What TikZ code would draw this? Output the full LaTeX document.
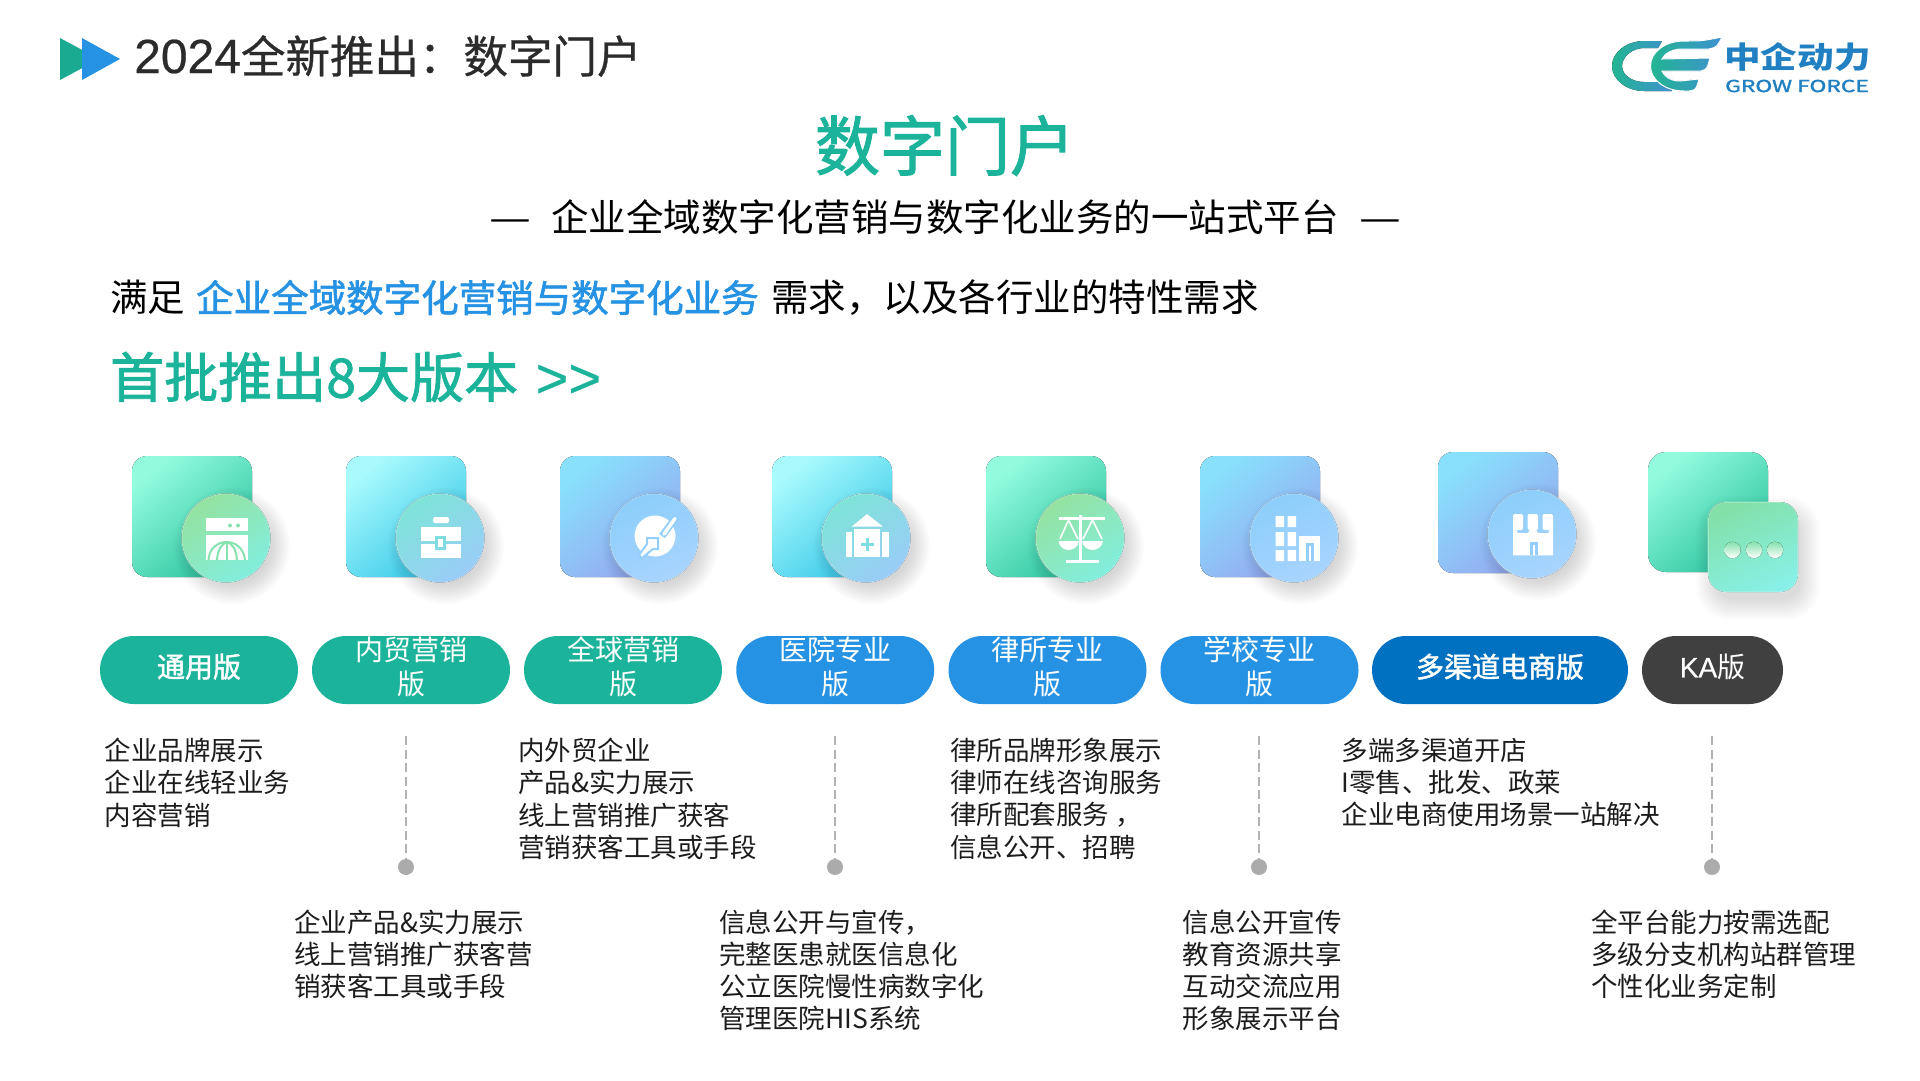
\documentclass[tikz,border=0pt]{standalone}
\usepackage{fontspec}
\setmainfont{Noto Sans CJK SC}
\newfontfamily\medfont[FakeBold=1.6]{Noto Sans CJK SC}
\newfontfamily\headfont[FakeBold=0.6]{Noto Sans CJK SC}
\newfontfamily\latinfont[FakeBold=0.5]{Liberation Sans}
\usetikzlibrary{positioning}
\definecolor{inkdark}{HTML}{2B2B2B}
\definecolor{inkbody}{HTML}{1C1C1C}
\definecolor{brandteal}{HTML}{1BB39A}
\definecolor{brandblue}{HTML}{2692E3}
\definecolor{brandnavy}{HTML}{0070C0}
\definecolor{brandgray}{HTML}{404040}
\definecolor{logoblue}{HTML}{2180C2}
\definecolor{logostart}{HTML}{22B592}
\definecolor{logoend}{HTML}{3F90D0}
\definecolor{discgreen}{HTML}{86E2AE}
\definecolor{disccyan}{HTML}{7FDCE0}
\definecolor{discblue}{HTML}{93CFFA}
\newcommand\SZ[2]{\fontsize{#1}{#2}\selectfont}
\tikzset{
  cardgreen/.style={top color={rgb,255:red,146;green,251;blue,222},bottom color={rgb,255:red,44;green,196;blue,158},shading angle=40},
  cardcyan/.style={top color={rgb,255:red,168;green,250;blue,253},bottom color={rgb,255:red,56;green,200;blue,232},shading angle=40},
  cardblue/.style={top color={rgb,255:red,136;green,224;blue,252},bottom color={rgb,255:red,150;green,166;blue,240},shading angle=40},
  roundgreen/.style={top color={rgb,255:red,148;green,226;blue,160},bottom color={rgb,255:red,130;green,238;blue,222},shading angle=35},
  roundcyan/.style={top color={rgb,255:red,126;green,228;blue,216},bottom color={rgb,255:red,154;green,204;blue,248},shading angle=35},
  roundblue/.style={top color={rgb,255:red,140;green,206;blue,250},bottom color={rgb,255:red,168;green,212;blue,255},shading angle=25},
  pilltag/.style={rounded corners=34pt,minimum height=68pt,inner sep=0pt,text depth=9pt,text=white,align=center,font=\SZ{28}{34}},
  notetext/.style={anchor=north west,inner sep=0pt,align=left,text=inkbody,font=\SZ{26.5}{32.2}},
  gapline/.style={draw=black!30,line width=1.2pt,dash pattern=on 9pt off 4.5pt},
  gapdot/.style={circle,fill=black!33,inner sep=0pt,minimum size=16pt},
  logofill/.style={left color=logostart,right color=logoend},
}
% square card, shadow, glass disc
\newcommand\IconCard[4]{
  \fill[#3,rounded corners=15pt] (#1,#2) rectangle ++(120,121);
  \foreach \k in {0,...,11}
  {
    \fill[black,opacity=0.014] (#1+100,#2+90) circle [radius=36pt+2pt*\k];
  }
  \fill[#4,draw=white,draw opacity=0.25,line width=1.5pt] (#1+94,#2+82) circle [radius=44.5pt];
}

\begin{document}
\begin{tikzpicture}[x=1pt,y=-1pt]
\useasboundingbox (0,0) rectangle (1920,1080);

% header
\fill[brandteal!95!black] (60,38) -- (99,59) -- (60,80) -- cycle;
\fill[brandblue] (82,38) -- (120,59) -- (82,80) -- cycle;
\node (headline) [anchor=west,inner sep=0pt,text=inkdark,font=\headfont\SZ{44.5}{44}] at (134,56) {{\latinfont\SZ{48}{44}2024}全新推出：数字门户};
\node (bigtitle) [inner sep=0pt,text=brandteal,font=\medfont\SZ{65}{65}] at (945,145.5) {数字门户};
\node (subline) [inner sep=0pt,text=black,font=\SZ{37.5}{38}] at (945.5,217) {\scalebox{1.25}[1]{—}\hspace{20pt}企业全域数字化营销与数字化业务的一站式平台\hspace{21pt}\scalebox{1.25}[1]{—}};
\node (needline) [anchor=west,inner sep=0pt,text=black,font=\SZ{37.5}{38}] at (110,298) {满足\hspace{11pt}{\medfont\color{brandblue}企业全域数字化营销与数字化业务}\hspace{12.5pt}需求，以及各行业的特性需求};
\node (versionline) [anchor=west,inner sep=0pt,text=brandteal,font=\medfont\SZ{54}{54}] at (110,377) {首批推出8大版本{\latinfont\SZ{56}{54}\hspace{2pt}\ >>}};

% logo
\fill[logofill] (1662,41) -- (1644,41) .. controls (1627,41) and (1612,52) .. (1612,66) .. controls (1612,80) and (1627,91) .. (1644,91) -- (1672,91) -- (1664,82) -- (1644,82) .. controls (1632,82) and (1622,75) .. (1622,66) .. controls (1622,57) and (1632,48) .. (1644,48) -- (1658,48) -- cycle;
\fill[logofill,draw=white,line width=1pt] (1722,37) .. controls (1702,41) .. (1684,41) .. controls (1665,41) and (1650.5,52) .. (1650.5,66) .. controls (1650.5,80) and (1665,91) .. (1684,91) -- (1689,91) .. controls (1696,90) .. (1699,79) -- (1680,81) .. controls (1670,81) and (1664,76) .. (1662,71) -- (1701,71) .. controls (1707,69) .. (1710,58) -- (1662,59) .. controls (1664,54) and (1672,49) .. (1682,49) -- (1709,49) .. controls (1717,47) .. cycle;
\node (logoname) [anchor=west,inner sep=0pt,text=logoblue,font=\bfseries\SZ{30}{30}] at (1724,57) {\scalebox{1.22}[1]{中企动力}};
\node (logoword) [anchor=west,inner sep=0pt,text=logoblue,font=\medfont\SZ{16.5}{17}] at (1725,86) {\scalebox{1.38}[1]{GROW FORCE}};

% cards
\IconCard{132}{456}{cardgreen}{roundgreen}
\IconCard{346}{456}{cardcyan}{roundcyan}
\IconCard{560}{456}{cardblue}{roundblue}
\IconCard{772}{456}{cardcyan}{roundcyan}
\IconCard{986}{456}{cardgreen}{roundgreen}
\IconCard{1200}{456}{cardblue}{roundblue}
\IconCard{1438}{452}{cardblue}{roundblue}

% last card has a square on it
\fill[cardgreen,rounded corners=18pt] (1648,452) rectangle ++(120,120);
\foreach \k in {0,...,11}
{
  \fill[black,opacity=0.012,rounded corners=18pt+1.5pt*\k] (1716-\k*1.8,516-\k*1.8) rectangle (1800+\k*1.8,600+\k*1.8);
}
\fill[top color={rgb,255:red,130;green,224;blue,168},bottom color={rgb,255:red,136;green,240;blue,230},shading angle=25,draw=white,draw opacity=0.25,line width=1.5pt,rounded corners=18pt] (1708,502) rectangle (1798,592);
\foreach \cx in {1732.5,1754,1775}
{
  \fill[top color=discgreen,bottom color=white] (\cx,550) circle [radius=8.2pt];
}

% icon 1
\fill[white] (206,518) rectangle (248,531);
\fill[white] (206,535) rectangle (248,560);
\fill[discgreen] (230,525.5) circle [radius=2pt] (238,525.5) circle [radius=2pt];
\draw[discgreen,line width=2pt] (208.5,560) .. controls (210,536) and (243,536) .. (245,560);
\draw[discgreen,line width=2pt] (217,560) .. controls (218,548) and (222,544) .. (227,542) .. controls (232,544) and (236,548) .. (237,560);
\draw[discgreen,line width=2pt] (227,542) -- (227,560);

% icon 2
\fill[white,rounded corners=2pt] (433,517) rectangle (449,523);
\fill[white] (421,527) rectangle (461,541);
\fill[white] (421,543.5) rectangle (461,558);
\fill[disccyan] (435,536) rectangle (446,550);
\fill[white] (438,539) rectangle (443,547);

% icon 3
\fill[white] (655,536) circle [radius=20.5pt];
\draw[discblue,line width=7pt] (677,516) -- (662,536);
\draw[white,line width=3.5pt,line cap=round] (675,518.5) -- (664,534);
\draw[discblue,line width=2pt,fill=white] (647,538) -- (658,538) -- (658,549) -- (653,549) -- (642,558) -- (639,555) -- (647,544) -- cycle;

% icon 4
\fill[white] (867,514) -- (883,526.7) -- (851.6,526.7) -- cycle;
\fill[white] (845.5,532) rectangle (851.6,556.7);
\fill[white] (882,532) rectangle (889,556.7);
\fill[white] (853.7,529) rectangle (880,556.7);
\fill[disccyan] (865.5,537.5) rectangle (868.5,551);
\fill[disccyan] (860.5,542.8) rectangle (873.5,545.8);

% icon 5
\draw[white,line width=3pt] (1059,518.5) -- (1104.5,518.5);
\draw[white,line width=3pt] (1080.5,515) -- (1080.5,560);
\draw[white,line width=3pt] (1065.5,561) -- (1099,561);
\draw[white,line width=1.6pt] (1060,539) -- (1068.5,520) -- (1078,539);
\draw[white,line width=1.6pt] (1083,539) -- (1092.5,520) -- (1102,539);
\fill[white] (1058.5,541) .. controls (1060,553) and (1077,553) .. (1079,541) -- cycle;
\fill[white] (1082,541) .. controls (1084,553) and (1101,553) .. (1103,541) -- cycle;

% icon 6
\fill[white] (1275.7,516) rectangle (1284,527) (1287.5,516) rectangle (1296,527);
\fill[white] (1275.7,532) rectangle (1284,546) (1287.5,532) rectangle (1296,546);
\fill[white] (1275.7,550) rectangle (1284,561) (1287.5,550) rectangle (1296,561);
\fill[white] (1299,535.7) rectangle (1320,561);
\fill[discblue] (1305.5,543) rectangle (1313.7,561);
\fill[white] (1308.5,546) rectangle (1310.7,561);

% icon 7
\fill[white,rounded corners=2pt] (1513,514) rectangle (1523,530);
\fill[white,rounded corners=2pt] (1527.5,514) rectangle (1538,530);
\fill[white,rounded corners=2pt] (1542.5,514) rectangle (1553,530);
\fill[white] (1513,524) -- (1518,533) -- (1528,533) -- (1533,525) -- (1538,533) -- (1548,533) -- (1553,524) -- (1553,555.3) -- (1513,555.3) -- cycle;
\fill[discblue] (1529.5,541.5) rectangle (1538,555.3);
\fill[white] (1532.5,545) rectangle (1535,555.3);

% version tags
\foreach \tagname/\cx/\tagw/\col/\txt in {
  tagA/199/198/brandteal/{\medfont 通用版},
  tagB/411/198/brandteal/{内贸营销\\版},
  tagC/623/198/brandteal/{全球营销\\版},
  tagD/835.25/198/brandblue/{医院专业\\版},
  tagE/1047.5/198/brandblue/{律所专业\\版},
  tagF/1259.5/198/brandblue/{学校专业\\版},
  tagG/1500/256/brandnavy/{\medfont 多渠道电商版},
  tagH/1712.5/141/brandgray/{{\latinfont KA}版}}
{
  \node (\tagname) [pilltag,fill=\col,minimum width=\tagw pt] at (\cx,670) {\txt};
}

% upper notes
\node (noteA) [notetext] at (104.5,738) {企业品牌展示\\企业在线轻业务\\内容营销};
\node (noteC) [notetext] at (518,738) {内外贸企业\\产品\&实力展示\\线上营销推广获客\\营销获客工具或手段};
\node (noteE) [notetext] at (950,738) {律所品牌形象展示\\律师在线咨询服务\\律所配套服务 ，\\信息公开、招聘};
\node (noteG) [notetext] at (1341.5,738) {多端多渠道开店\\I零售、批发、政莱\\企业电商使用场景一站解决};

% lower notes
\node (noteB) [notetext] at (294,909.5) {企业产品\&实力展示\\线上营销推广获客营\\销获客工具或手段};
\node (noteD) [notetext] at (719,909.5) {信息公开与宣传，\\完整医患就医信息化\\公立医院慢性病数字化\\管理医院HIS系统};
\node (noteF) [notetext] at (1182.5,909.5) {信息公开宣传\\教育资源共享\\互动交流应用\\形象展示平台};
\node (noteH) [notetext] at (1591,909.5) {全平台能力按需选配\\多级分支机构站群管理\\个性化业务定制};

% dashed stems
\foreach \stem/\sx in {B/406,D/835,F/1259,H/1712}
{
  \coordinate (top\stem) at (\sx,736);
  \node (dot\stem) [gapdot] at (\sx,867) {};
  \draw[gapline] (top\stem) -- (dot\stem);
}
\end{tikzpicture}
\end{document}
